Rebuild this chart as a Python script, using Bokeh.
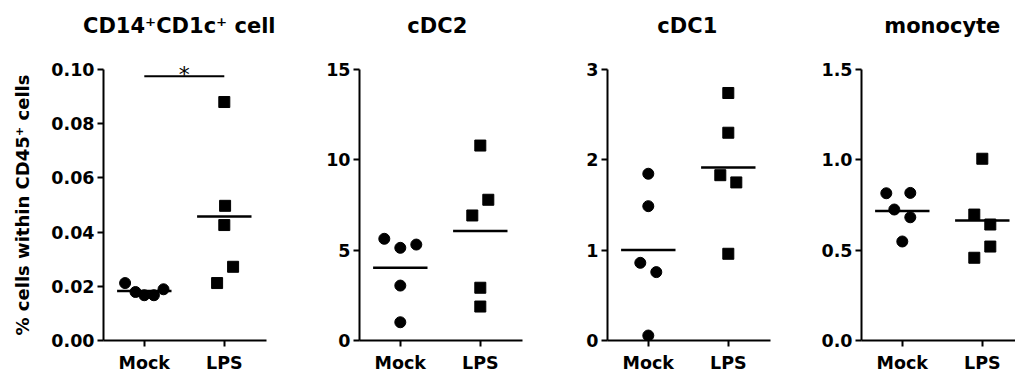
import math
import numpy as np
from bokeh.plotting import figure
from bokeh.layouts import row, column
from bokeh.models import FixedTicker, PrintfTickFormatter, Range1d, Label
from bokeh.embed import file_html
from bokeh.resources import INLINE

categories = ["Mock", "LPS"]
titles = ["CD14⁺CD1c⁺ cell", "cDC2", "cDC1", "monocyte"]
y_label = "% cells within CD45⁺ cells"

mock_1 = [0.0212, 0.0179, 0.0167, 0.0167, 0.0189]
lps_1 = [0.0880, 0.0497, 0.0426, 0.0272, 0.0212]
mock_2 = [5.63, 5.13, 5.31, 3.04, 1.01]
lps_2 = [10.79, 7.79, 6.92, 2.92, 1.88]
mock_3 = [1.846, 1.487, 0.860, 0.757, 0.055]
lps_3 = [2.74, 2.30, 1.83, 1.75, 0.96]
mock_4 = [0.815, 0.817, 0.725, 0.682, 0.548]
lps_4 = [1.006, 0.697, 0.642, 0.520, 0.458]

# horizontal scatter offsets (in category units)
mock_jitter_1 = [-0.24, -0.11, 0.0, 0.12, 0.24]
lps_jitter_1 = [0.0, 0.01, 0.0, 0.11, -0.09]
mock_jitter_2 = [-0.2, 0.0, 0.2, 0.0, 0.0]
lps_jitter_2 = [0.0, 0.1, -0.1, 0.0, 0.0]
mock_jitter_3 = [0.0, 0.0, -0.1, 0.1, 0.0]
lps_jitter_3 = [0.0, 0.0, -0.1, 0.1, 0.0]
mock_jitter_4 = [-0.2, 0.1, -0.1, 0.1, 0.0]
lps_jitter_4 = [0.0, -0.1, 0.1, 0.1, -0.1]

y_ticks_1 = [0, 0.02, 0.04, 0.06, 0.08, 0.10]
y_ticks_2 = [0, 5, 10, 15]
y_ticks_3 = [0, 1, 2, 3]
y_ticks_4 = [0, 0.5, 1.0, 1.5]
y_formats = ["%.2f", "%d", "%d", "%.1f"]

sig_y = 0.0975
sig_text = "*"

mocks = [mock_1, mock_2, mock_3, mock_4]
lpss = [lps_1, lps_2, lps_3, lps_4]
mock_j = [mock_jitter_1, mock_jitter_2, mock_jitter_3, mock_jitter_4]
lps_j = [lps_jitter_1, lps_jitter_2, lps_jitter_3, lps_jitter_4]
y_ticks = [y_ticks_1, y_ticks_2, y_ticks_3, y_ticks_4]

# ---------------- layout (pixels) ----------------
YLAB_W = 40
TITLE_H = 40
PANEL_H = 337
widths = [243, 257, 250, 225]
lefts = [63, 76, 67, 71]
frames = [163, 163, 163, 154]
title_dx = [-5, -3, -1, 0]
AXIS_TOP = 29       # top tick, measured from panel figure top
AXIS_BOTTOM = 300   # x axis, measured from panel figure top
FONT = "DejaVu Sans"
X0 = 0.49
PX_PER_UNIT = 80.0


def blank(w, h, yr=None):
    f = figure(width=w, height=h, output_backend="svg", toolbar_location=None,
               x_range=Range1d(0, w), y_range=yr if yr is not None else Range1d(0, h),
               x_axis_type=None, y_axis_type=None)
    f.min_border = 0
    f.grid.visible = False
    f.outline_line_color = None
    f.background_fill_color = "white"
    f.border_fill_color = "white"
    return f


# ---------------- title strip ----------------
title_figs = []
for i in range(4):
    w = widths[i] + (YLAB_W if i == 0 else 0)
    t = blank(w, TITLE_H)
    cx = lefts[i] + (YLAB_W if i == 0 else 0) + (1.5 - X0) * PX_PER_UNIT + title_dx[i]
    t.add_layout(Label(x=cx, y=TITLE_H - 25.5, text=titles[i], text_align="center",
                       text_baseline="middle", text_font=FONT, text_font_style="bold",
                       text_font_size="21px", text_color="black"))
    title_figs.append(t)

# ---------------- panels ----------------
figs = []
for i in range(4):
    ymax = y_ticks[i][-1]
    x_end = X0 + frames[i] / PX_PER_UNIT
    y_end = ymax * AXIS_BOTTOM / (AXIS_BOTTOM - AXIS_TOP)
    p = figure(width=widths[i], height=PANEL_H, output_backend="svg", toolbar_location=None,
               x_range=Range1d(X0, x_end), y_range=Range1d(0, y_end))
    p.min_border_left = lefts[i]
    p.min_border_right = widths[i] - lefts[i] - frames[i]
    p.min_border_top = 0
    p.min_border_bottom = PANEL_H - AXIS_BOTTOM
    p.grid.visible = False
    p.outline_line_color = None
    p.background_fill_color = "white"
    p.border_fill_color = "white"

    p.xaxis.ticker = FixedTicker(ticks=[1, 2])
    p.xaxis.major_label_overrides = {1: categories[0], 2: categories[1]}
    p.yaxis.ticker = FixedTicker(ticks=y_ticks[i])
    p.yaxis.formatter = PrintfTickFormatter(format=y_formats[i])
    p.yaxis.bounds = (0, ymax)
    for ax in (p.xaxis[0], p.yaxis[0]):
        ax.axis_line_width = 2
        ax.axis_line_color = "black"
        ax.major_tick_line_width = 2
        ax.major_tick_line_color = "black"
        ax.major_tick_out = 6
        ax.major_tick_in = 0
        ax.minor_tick_line_color = None
        ax.major_label_text_font = FONT
        ax.major_label_text_font_style = "bold"
        ax.major_label_text_font_size = "17.5px"
        ax.major_label_text_color = "black"
    p.xaxis.major_label_standoff = 6
    p.yaxis.major_label_standoff = 3

    mx = [1 + j for j in mock_j[i]]
    lx = [2 + j for j in lps_j[i]]
    p.scatter(mx, mocks[i], marker="circle", size=11, color="black")
    p.scatter(lx, lpss[i], marker="square", size=11, color="black")
    means = [float(np.mean(mocks[i])), float(np.mean(lpss[i]))]
    p.segment(x0=[1 - 0.34, 2 - 0.34], x1=[1 + 0.34, 2 + 0.34], y0=means, y1=means,
              line_width=2.5, color="black")
    if i == 0:
        p.segment(x0=[1], x1=[2], y0=[sig_y], y1=[sig_y], line_width=2, color="black")
        p.add_layout(Label(x=1.5, y=sig_y, text=sig_text, text_align="center",
                           text_baseline="middle", y_offset=2, text_font=FONT,
                           text_font_size="22px", text_color="black"))
    figs.append(p)

# ---------------- y-axis title strip ----------------
ymax1 = y_ticks[0][-1]
ylab = blank(YLAB_W, PANEL_H, yr=Range1d(0, ymax1 * AXIS_BOTTOM / (AXIS_BOTTOM - AXIS_TOP)))
ylab.min_border_bottom = PANEL_H - AXIS_BOTTOM
ylab.add_layout(Label(x=22, y=ymax1 / 2, text=y_label, angle=math.pi / 2,
                      text_align="center", text_baseline="middle", text_font=FONT,
                      text_font_style="bold", text_font_size="18px", text_color="black"))

layout = column(row(*title_figs, spacing=0), row(ylab, *figs, spacing=0), spacing=0)
open("out.html", "w").write(file_html(layout, INLINE))
